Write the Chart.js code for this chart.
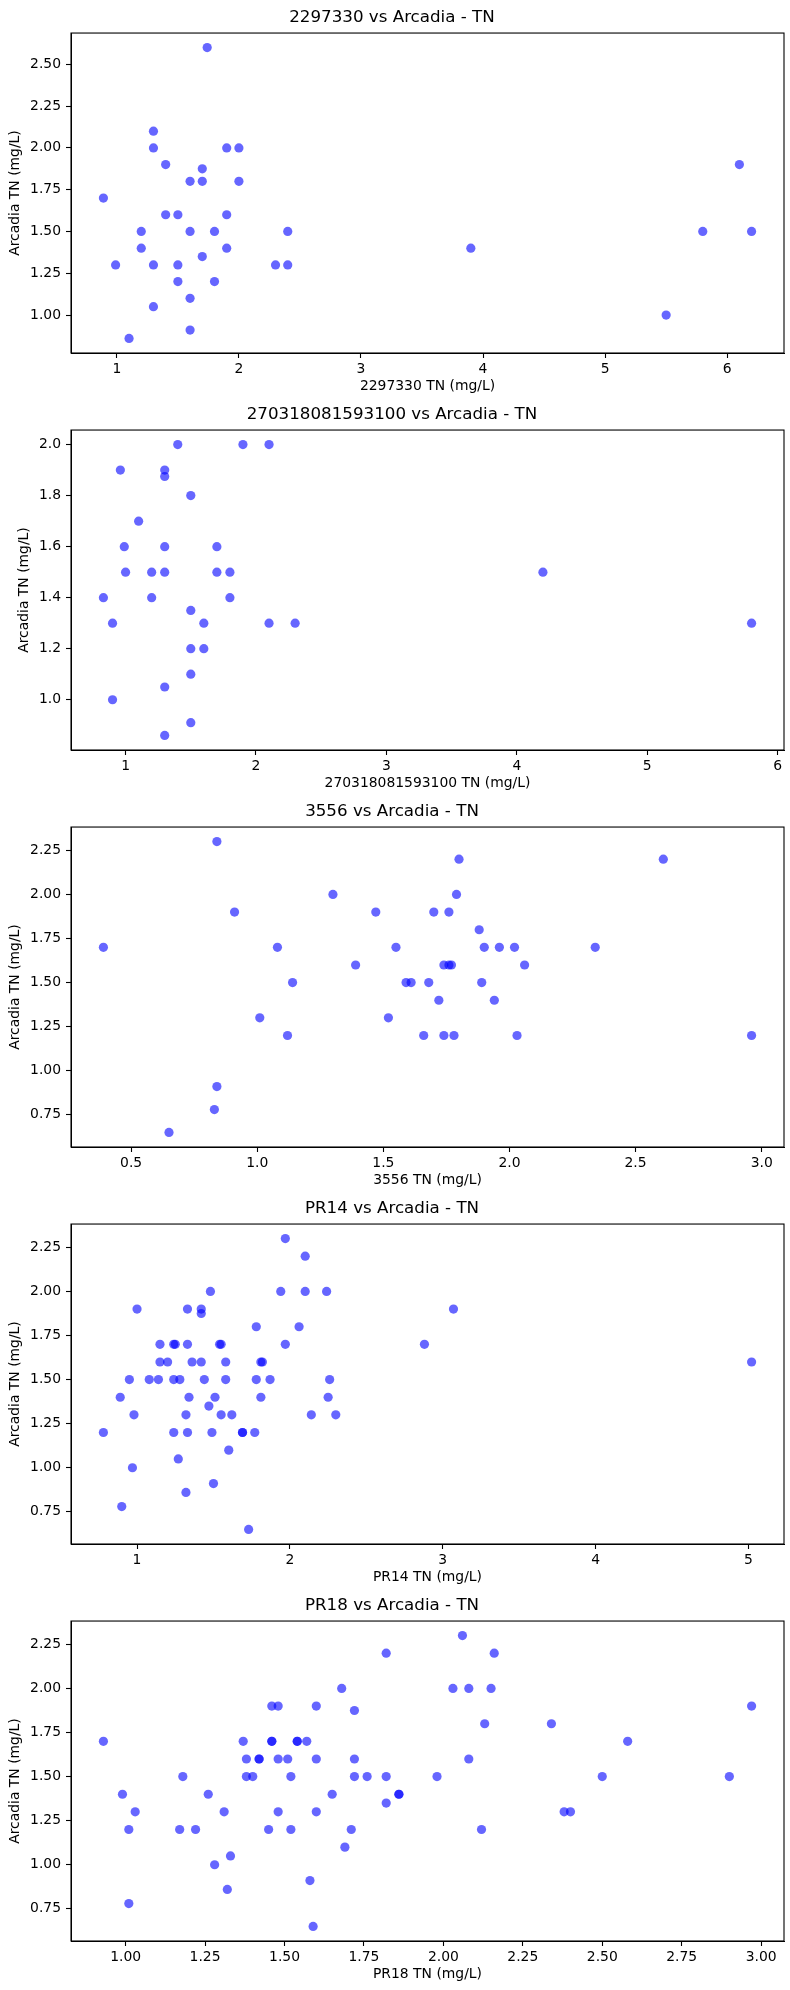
<!DOCTYPE html>
<html>
<head>
<meta charset="utf-8">
<title>Arcadia TN comparisons</title>
<script src="https://cdn.jsdelivr.net/npm/chart.js@4.4.0/dist/chart.umd.min.js"></script>
<style>
  body { margin: 0; background: #fff; }
  #wrap { position: relative; width: 790px; height: 1990px; }
  .box { position: absolute; left: 0; width: 790px; height: 397px; }
</style>
</head>
<body>
<div id="wrap"></div>
<script>
// station names, one panel each
var sites = ["2297330", "270318081593100", "3556", "PR14", "PR18"];

// paired TN readings (mg/L): station on x, Arcadia on y
var x2297330 = [1.74, 1.3, 1.3, 1.9, 2.0, 1.4, 1.7, 1.6, 1.7, 2.0, 0.89, 1.4, 1.5, 1.9, 1.2, 1.6, 1.8, 2.4, 1.2, 1.9,
                3.9, 1.7, 0.99, 1.3, 1.5, 2.3, 2.4, 1.5, 1.8, 1.6, 1.3, 1.6, 1.1, 5.5, 6.1, 5.8, 6.2];
var y2297330 = [2.6, 2.1, 2.0, 2.0, 2.0, 1.9, 1.875, 1.8, 1.8, 1.8, 1.7, 1.6, 1.6, 1.6, 1.5, 1.5, 1.5, 1.5, 1.4, 1.4,
                1.4, 1.35, 1.3, 1.3, 1.3, 1.3, 1.3, 1.2, 1.2, 1.1, 1.05, 0.91, 0.86, 1.0, 1.9, 1.5, 1.5];

var x270318 = [1.4, 1.9, 2.1, 0.96, 1.3, 1.3, 1.5, 1.1, 0.99, 1.3, 1.7, 1.0, 1.2, 1.3, 1.7, 1.8, 4.2, 0.83, 1.2, 1.8,
               1.5, 0.9, 1.6, 2.1, 2.3, 5.8, 1.5, 1.6, 1.5, 1.3, 0.9, 1.5, 1.3];
var y270318 = [2.0, 2.0, 2.0, 1.9, 1.9, 1.875, 1.8, 1.7, 1.6, 1.6, 1.6, 1.5, 1.5, 1.5, 1.5, 1.5, 1.5, 1.4, 1.4, 1.4,
               1.35, 1.3, 1.3, 1.3, 1.3, 1.3, 1.2, 1.2, 1.1, 1.05, 1.0, 0.91, 0.86];

var x3556 = [0.84, 1.8, 2.61, 1.3, 1.79, 0.91, 1.47, 1.7, 1.76, 1.88, 0.39, 1.08, 1.55, 1.9, 1.96, 2.02, 2.34, 1.39, 1.74, 1.76,
             1.77, 2.06, 1.14, 1.59, 1.61, 1.68, 1.89, 1.72, 1.94, 1.01, 1.52, 1.12, 1.66, 1.74, 1.78, 2.03, 2.96, 0.84, 0.83, 0.65];
var y3556 = [2.3, 2.2, 2.2, 2.0, 2.0, 1.9, 1.9, 1.9, 1.9, 1.8, 1.7, 1.7, 1.7, 1.7, 1.7, 1.7, 1.7, 1.6, 1.6, 1.6,
             1.6, 1.6, 1.5, 1.5, 1.5, 1.5, 1.5, 1.4, 1.4, 1.3, 1.3, 1.2, 1.2, 1.2, 1.2, 1.2, 1.2, 0.91, 0.78, 0.65];

var xPR14 = [1.97, 2.1, 1.48, 1.94, 2.1, 2.24, 1.0, 1.33, 1.42, 1.42, 3.07, 1.78, 2.06, 1.15, 1.24, 1.25, 1.33, 1.54, 1.55, 1.97,
             2.88, 1.15, 1.2, 1.36, 1.42, 1.58, 1.81, 1.82, 5.02, 0.95, 1.08, 1.14, 1.24, 1.28, 1.44, 1.58, 1.78, 1.87, 2.26, 0.89,
             1.34, 1.51, 1.81, 2.25, 1.47, 0.98, 1.32, 1.55, 1.62, 2.14, 2.3, 0.78, 1.24, 1.33, 1.49, 1.69, 1.69, 1.77, 1.6, 1.27,
             0.97, 1.5, 1.32, 0.9, 1.73];
var yPR14 = [2.3, 2.2, 2.0, 2.0, 2.0, 2.0, 1.9, 1.9, 1.9, 1.875, 1.9, 1.8, 1.8, 1.7, 1.7, 1.7, 1.7, 1.7, 1.7, 1.7,
             1.7, 1.6, 1.6, 1.6, 1.6, 1.6, 1.6, 1.6, 1.6, 1.5, 1.5, 1.5, 1.5, 1.5, 1.5, 1.5, 1.5, 1.5, 1.5, 1.4,
             1.4, 1.4, 1.4, 1.4, 1.35, 1.3, 1.3, 1.3, 1.3, 1.3, 1.3, 1.2, 1.2, 1.2, 1.2, 1.2, 1.2, 1.2, 1.1, 1.05,
             1.0, 0.91, 0.86, 0.78, 0.65];

var xPR18 = [2.06, 1.82, 2.16, 1.68, 2.03, 2.08, 2.15, 1.46, 1.48, 1.6, 2.97, 1.72, 2.13, 2.34, 0.93, 1.37, 1.46, 1.46, 1.54, 1.54,
             1.57, 2.58, 1.38, 1.42, 1.42, 1.48, 1.51, 1.6, 1.72, 2.08, 1.18, 1.38, 1.4, 1.52, 1.72, 1.76, 1.82, 1.98, 2.5, 2.9,
             0.99, 1.26, 1.65, 1.86, 1.86, 1.82, 1.03, 1.31, 1.48, 1.6, 2.38, 2.4, 1.01, 1.17, 1.22, 1.45, 1.52, 1.71, 2.12, 1.69,
             1.33, 1.28, 1.58, 1.32, 1.01, 1.59];
var yPR18 = [2.3, 2.2, 2.2, 2.0, 2.0, 2.0, 2.0, 1.9, 1.9, 1.9, 1.9, 1.875, 1.8, 1.8, 1.7, 1.7, 1.7, 1.7, 1.7, 1.7,
             1.7, 1.7, 1.6, 1.6, 1.6, 1.6, 1.6, 1.6, 1.6, 1.6, 1.5, 1.5, 1.5, 1.5, 1.5, 1.5, 1.5, 1.5, 1.5, 1.5,
             1.4, 1.4, 1.4, 1.4, 1.4, 1.35, 1.3, 1.3, 1.3, 1.3, 1.3, 1.3, 1.2, 1.2, 1.2, 1.2, 1.2, 1.2, 1.2, 1.1,
             1.05, 1.0, 0.91, 0.86, 0.78, 0.65];

// tick spacing and label decimals per panel
var xSteps = [1, 1, 0.5, 1, 0.25];
var ySteps = [0.25, 0.2, 0.25, 0.25, 0.25];
var xDec = [0, 0, 1, 0, 2];
var yDec = [2, 1, 2, 2, 2];

var xData = [x2297330, x270318, x3556, xPR14, xPR18];
var yData = [y2297330, y270318, y3556, yPR14, yPR18];
var yTitlePad = [7, 16, 7, 7, 7];

Chart.defaults.font.family = "'DejaVu Sans', sans-serif";
Chart.defaults.color = '#000';

// full box around the plot area, like matplotlib spines
var frame = {
  id: 'frame',
  afterDraw: function(chart) {
    var a = chart.chartArea, c = chart.ctx;
    c.save();
    c.strokeStyle = '#000';
    c.lineWidth = 1.1;
    c.strokeRect(a.left, a.top, a.right - a.left, a.bottom - a.top);
    c.restore();
  }
};

// matplotlib-style 5% margins
function range5(arr) {
  var lo = Math.min.apply(null, arr), hi = Math.max.apply(null, arr);
  var m = (hi - lo) * 0.05;
  return [lo - m, hi + m];
}

function keepInside(scale) {
  scale.ticks = scale.ticks.filter(function(t) {
    return t.value >= scale.min - 1e-9 && t.value <= scale.max + 1e-9;
  });
}

function makeChart(i) {
  var wrap = document.getElementById('wrap');
  var div = document.createElement('div');
  div.className = 'box';
  div.style.top = Math.round(i * 396.9) + 'px';
  var cv = document.createElement('canvas');
  div.appendChild(cv);
  wrap.appendChild(div);

  var xs = xData[i], ys = yData[i];
  var xr = range5(xs), yr = range5(ys);
  var pts = xs.map(function(x, k) { return {x: x, y: ys[k]}; });

  new Chart(cv, {
    type: 'scatter',
    data: {
      datasets: [{
        data: pts,
        backgroundColor: 'rgba(0,0,255,0.6)',
        borderWidth: 0,
        pointRadius: 4.6,
        pointHoverRadius: 4.6
      }]
    },
    options: {
      responsive: true,
      maintainAspectRatio: false,
      animation: false,
      layout: { padding: { left: 0, right: 6, top: 0, bottom: 0 } },
      plugins: {
        legend: { display: false },
        tooltip: { enabled: false },
        title: {
          display: true,
          text: sites[i] + ' vs Arcadia - TN',
          color: '#000',
          font: { size: 16.7, weight: 'normal' },
          padding: { top: 7.5, bottom: 5.5 }
        }
      },
      scales: {
        x: {
          type: 'linear',
          min: xr[0],
          max: xr[1],
          border: { display: true, color: '#000', width: 1 },
          grid: { display: true, drawOnChartArea: false, drawTicks: true, tickLength: 5, color: '#000', tickWidth: 1.1 },
          ticks: {
            stepSize: xSteps[i],
            includeBounds: false,
            autoSkip: false,
            maxRotation: 0,
            padding: 3,
            font: { size: 13.9 },
            callback: function(v) { return Number(v).toFixed(xDec[i]); }
          },
          title: { display: true, text: sites[i] + ' TN (mg/L)', font: { size: 13.9 }, padding: { top: 0, bottom: 2 } },
          afterBuildTicks: keepInside,
          afterFit: function(s) { s.height = 44; }
        },
        y: {
          type: 'linear',
          min: yr[0],
          max: yr[1],
          border: { display: true, color: '#000', width: 1 },
          grid: { display: true, drawOnChartArea: false, drawTicks: true, tickLength: 5, color: '#000', tickWidth: 1.1 },
          ticks: {
            stepSize: ySteps[i],
            includeBounds: false,
            autoSkip: false,
            padding: 5,
            font: { size: 13.9 },
            callback: function(v) { return Number(v).toFixed(yDec[i]); }
          },
          title: { display: true, text: 'Arcadia TN (mg/L)', font: { size: 13.9 }, padding: { top: yTitlePad[i], bottom: 0 } },
          afterBuildTicks: keepInside,
          afterFit: function(s) { s.width = 71; }
        }
      }
    },
    plugins: [frame]
  });
}

for (var i = 0; i < sites.length; i++) {
  makeChart(i);
}
</script>
</body>
</html>
